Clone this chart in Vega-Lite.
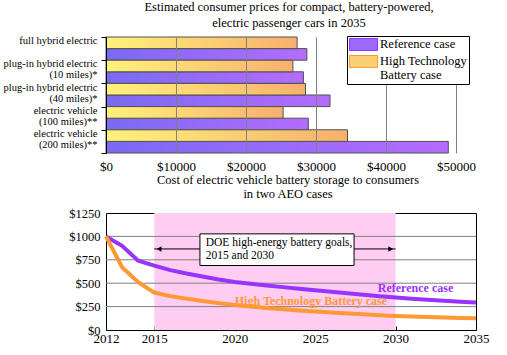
{
  "$schema": "https://vega.github.io/schema/vega-lite/v6.json",
  "padding": {"left": 3, "top": 0, "right": 0, "bottom": 0},
  "background": "white",
  "spacing": 0,
  "config": {
    "font": "Liberation Serif",
    "view": {"stroke": "#000", "strokeWidth": 1},
    "axis": {"labelFont": "Liberation Serif", "labelColor": "#000", "titleFont": "Liberation Serif"},
    "title": {"font": "Liberation Serif", "fontWeight": "normal", "color": "#000"},
    "legend": {"labelFont": "Liberation Serif", "labelColor": "#000"},
    "text": {"font": "Liberation Serif"},
    "style": {"guide-label": {"font": "Liberation Serif"}, "group-title": {"font": "Liberation Serif"}}
  },
  "vconcat": [
    {
      "width": 350,
      "height": 116,
      "view": {"stroke": null},
      "title": {"text": ["Estimated consumer prices for compact, battery-powered,", "electric passenger cars in 2035"], "font": "Liberation Serif", "fontSize": 12.5, "lineHeight": 16, "offset": 3, "dx": 8, "anchor": "middle"},
      "data": {"values": [
        {"vehicle": "full hybrid electric|", "case": "Reference case", "price": 28700},
        {"vehicle": "full hybrid electric|", "case": "High Technology Battery case", "price": 27300},
        {"vehicle": "plug-in hybrid electric|(10 miles)*", "case": "Reference case", "price": 28200},
        {"vehicle": "plug-in hybrid electric|(10 miles)*", "case": "High Technology Battery case", "price": 26700},
        {"vehicle": "plug-in hybrid electric|(40 miles)*", "case": "Reference case", "price": 32000},
        {"vehicle": "plug-in hybrid electric|(40 miles)*", "case": "High Technology Battery case", "price": 28500},
        {"vehicle": "electric vehicle|(100 miles)**", "case": "Reference case", "price": 28900},
        {"vehicle": "electric vehicle|(100 miles)**", "case": "High Technology Battery case", "price": 25300},
        {"vehicle": "electric vehicle|(200 miles)**", "case": "Reference case", "price": 48900},
        {"vehicle": "electric vehicle|(200 miles)**", "case": "High Technology Battery case", "price": 34500}
      ]},
      "mark": {"type": "bar", "stroke": "#505050", "strokeWidth": 1},
      "encoding": {
        "y": {
          "field": "vehicle", "type": "nominal", "sort": null, "title": null,
          "scale": {"paddingInner": 0, "paddingOuter": 0},
          "axis": {"labelExpr": "split(datum.label, '|')", "labelFont": "Liberation Serif", "labelFontSize": 10.5, "labelLineHeight": 11, "labelPadding": 4, "tickSize": 5, "tickColor": "#000", "domainColor": "#000", "tickBand": "extent", "minExtent": 100, "maxExtent": 100, "zindex": 2, "labelOffset": -8, "labelLimit": 200}
        },
        "yOffset": {"field": "case", "type": "nominal", "sort": ["High Technology Battery case", "Reference case"]},
        "x": {
          "field": "price", "type": "quantitative", "title": null,
          "scale": {"domain": [0, 50000], "nice": false},
          "axis": {"values": [0, 10000, 20000, 30000, 40000, 50000], "tickCount": 6, "labelExpr": "'$' + datum.value", "labelFont": "Liberation Serif", "labelFontSize": 13, "domain": false, "ticks": false, "grid": true, "gridColor": "#808080", "gridOpacity": 1, "labelPadding": 7, "zindex": 1, "labelFlush": false}
        },
        "fill": {
          "field": "case", "type": "nominal",
          "condition": [
            {"test": "datum['case'] === 'Reference case'", "value": {"gradient": "linear", "x1": 0, "y1": 0, "x2": 1, "y2": 0, "stops": [{"offset": 0, "color": "#7a6af2"}, {"offset": 1, "color": "#b46cff"}]}},
            {"test": "datum['case'] === 'High Technology Battery case'", "value": {"gradient": "linear", "x1": 0, "y1": 0, "x2": 1, "y2": 0, "stops": [{"offset": 0, "color": "#fff27a"}, {"offset": 1, "color": "#f7b06e"}]}}
          ],
          "scale": {
            "domain": ["Reference case", "High Technology Battery case"],
            "range": ["#9a6bfa", "#fbd074"]
          },
          "legend": {
            "title": null, "orient": "none", "legendX": 241, "legendY": -1,
            "strokeColor": "#000", "fillColor": "#fff", "padding": 2,
            "symbolType": "M-2.33,-1H2.33V1H-2.33Z", "symbolSize": 144, "symbolOffset": 8,
            "symbolStrokeColor": "#707070", "symbolStrokeWidth": 1,
            "labelFont": "Liberation Serif", "labelFontSize": 12.5, "labelOffset": 10, "rowPadding": 0, "labelLimit": 200,
            "labelBaseline": "top",
            "labelExpr": "datum.label == 'High Technology Battery case' ? ['High Technology', 'Battery case'] : datum.label",
            "labelLineHeight": 15,
            "encode": {
              "labels": {"update": {"dy": {"value": -7}}},
              "symbols": {"update": {"fill": {"signal": "datum.value == 'Reference case' ? {gradient: 'linear', x1: 0, y1: 0, x2: 1, y2: 0, stops: [{offset: 0, color: '#7a6af2'}, {offset: 1, color: '#b46cff'}]} : {gradient: 'linear', x1: 0, y1: 0, x2: 1, y2: 0, stops: [{offset: 0, color: '#fff27a'}, {offset: 1, color: '#f7b06e'}]}"}}}
            }
          }
        }
      }
    },
    {
      "width": 370,
      "height": 117,
      "title": {"text": ["Cost of electric vehicle battery storage to consumers", "in two AEO cases"], "font": "Liberation Serif", "fontSize": 12.5, "lineHeight": 14, "offset": 7, "dx": -3, "anchor": "middle"},
      "layer": [
        {
          "data": {"values": [{"start": 2015, "end": 2030, "low": 0, "high": 1250}]},
          "mark": {"type": "rect", "fill": "#ffccf2"},
          "encoding": {
            "x": {
              "field": "start", "type": "quantitative", "title": null,
              "scale": {"domain": [2012, 2035], "nice": false, "zero": false},
              "axis": {"values": [2012, 2015, 2020, 2025, 2030, 2035], "tickCount": 6, "format": "d", "labelFont": "Liberation Serif", "labelFontSize": 13, "domain": false, "tickSize": -4, "tickColor": "#000", "labelPadding": 6, "grid": false, "labelFlush": false, "labelOverlap": false}
            },
            "x2": {"field": "end"},
            "y": {
              "field": "low", "type": "quantitative", "title": null,
              "scale": {"domain": [0, 1250], "nice": false},
              "axis": {"values": [0, 250, 500, 750, 1000, 1250], "tickCount": 6, "labelExpr": "'$' + datum.value", "labelFont": "Liberation Serif", "labelFontSize": 12.5, "domain": false, "ticks": false, "grid": false, "labelPadding": 6, "minExtent": 100, "maxExtent": 100, "labelOverlap": false, "labelFlush": false}
            },
            "y2": {"field": "high"}
          }
        },
        {
          "data": {"values": [{"v": 250}, {"v": 500}, {"v": 750}, {"v": 1000}]},
          "mark": {"type": "rule", "color": "#808080", "strokeWidth": 1},
          "encoding": {
            "y": {"field": "v", "type": "quantitative", "title": null}
          }
        },
        {
          "data": {"values": [
            {"year": 2012, "case": "Reference case", "cost": 1000},
            {"year": 2013, "case": "Reference case", "cost": 900},
            {"year": 2014, "case": "Reference case", "cost": 740},
            {"year": 2015, "case": "Reference case", "cost": 688},
            {"year": 2016, "case": "Reference case", "cost": 640},
            {"year": 2017, "case": "Reference case", "cost": 603},
            {"year": 2018, "case": "Reference case", "cost": 572},
            {"year": 2019, "case": "Reference case", "cost": 540},
            {"year": 2020, "case": "Reference case", "cost": 512},
            {"year": 2021, "case": "Reference case", "cost": 493},
            {"year": 2022, "case": "Reference case", "cost": 475},
            {"year": 2023, "case": "Reference case", "cost": 458},
            {"year": 2024, "case": "Reference case", "cost": 441},
            {"year": 2025, "case": "Reference case", "cost": 424},
            {"year": 2026, "case": "Reference case", "cost": 408},
            {"year": 2027, "case": "Reference case", "cost": 392},
            {"year": 2028, "case": "Reference case", "cost": 376},
            {"year": 2029, "case": "Reference case", "cost": 361},
            {"year": 2030, "case": "Reference case", "cost": 347},
            {"year": 2031, "case": "Reference case", "cost": 335},
            {"year": 2032, "case": "Reference case", "cost": 324},
            {"year": 2033, "case": "Reference case", "cost": 313},
            {"year": 2034, "case": "Reference case", "cost": 303},
            {"year": 2035, "case": "Reference case", "cost": 293},
            {"year": 2012, "case": "High Technology Battery case", "cost": 1000},
            {"year": 2013, "case": "High Technology Battery case", "cost": 670},
            {"year": 2014, "case": "High Technology Battery case", "cost": 510},
            {"year": 2015, "case": "High Technology Battery case", "cost": 400},
            {"year": 2016, "case": "High Technology Battery case", "cost": 362},
            {"year": 2017, "case": "High Technology Battery case", "cost": 335},
            {"year": 2018, "case": "High Technology Battery case", "cost": 310},
            {"year": 2019, "case": "High Technology Battery case", "cost": 287},
            {"year": 2020, "case": "High Technology Battery case", "cost": 267},
            {"year": 2021, "case": "High Technology Battery case", "cost": 250},
            {"year": 2022, "case": "High Technology Battery case", "cost": 235},
            {"year": 2023, "case": "High Technology Battery case", "cost": 221},
            {"year": 2024, "case": "High Technology Battery case", "cost": 208},
            {"year": 2025, "case": "High Technology Battery case", "cost": 197},
            {"year": 2026, "case": "High Technology Battery case", "cost": 186},
            {"year": 2027, "case": "High Technology Battery case", "cost": 176},
            {"year": 2028, "case": "High Technology Battery case", "cost": 167},
            {"year": 2029, "case": "High Technology Battery case", "cost": 158},
            {"year": 2030, "case": "High Technology Battery case", "cost": 150},
            {"year": 2031, "case": "High Technology Battery case", "cost": 144},
            {"year": 2032, "case": "High Technology Battery case", "cost": 138},
            {"year": 2033, "case": "High Technology Battery case", "cost": 133},
            {"year": 2034, "case": "High Technology Battery case", "cost": 129},
            {"year": 2035, "case": "High Technology Battery case", "cost": 125}
          ]},
          "mark": {"type": "line", "strokeWidth": 4},
          "encoding": {
            "x": {"field": "year", "type": "quantitative", "title": null},
            "y": {"field": "cost", "type": "quantitative", "title": null},
            "color": {"field": "case", "type": "nominal", "legend": null, "scale": {"domain": ["Reference case", "High Technology Battery case"], "range": ["#9933ff", "#ff9933"]}}
          }
        },
        {
          "data": {"values": [{"from": 2015, "to": 2030, "level": 866}]},
          "mark": {"type": "rule", "color": "#000", "strokeWidth": 1},
          "encoding": {
            "x": {"field": "from", "type": "quantitative", "title": null},
            "x2": {"field": "to"},
            "y": {"field": "level", "type": "quantitative", "title": null}
          }
        },
        {
          "data": {"values": [{"year": 2015.3, "level": 866, "dir": "triangle-left"}, {"year": 2029.7, "level": 866, "dir": "triangle-right"}]},
          "mark": {"type": "point", "filled": true, "color": "#000", "size": 30, "opacity": 1},
          "encoding": {
            "x": {"field": "year", "type": "quantitative", "title": null},
            "y": {"field": "level", "type": "quantitative", "title": null},
            "shape": {"field": "dir", "type": "nominal", "scale": null, "legend": null}
          }
        },
        {
          "data": {"values": [{"x1": 2017.84, "x2": 2027.42, "y1": 1027, "y2": 689}]},
          "mark": {"type": "rect", "fill": "#fff", "stroke": "#000", "strokeWidth": 1},
          "encoding": {
            "x": {"field": "x1", "type": "quantitative", "title": null},
            "x2": {"field": "x2"},
            "y": {"field": "y1", "type": "quantitative", "title": null},
            "y2": {"field": "y2"}
          }
        },
        {
          "data": {"values": [{"year": 2018.2, "level": 863, "note": ["DOE high-energy battery goals,", "2015 and 2030"]}]},
          "mark": {"type": "text", "align": "left", "baseline": "middle", "font": "Liberation Serif", "fontSize": 11.5, "lineHeight": 13, "color": "#000", "dy": -6},
          "encoding": {
            "x": {"field": "year", "type": "quantitative", "title": null},
            "y": {"field": "level", "type": "quantitative", "title": null},
            "text": {"field": "note"}
          }
        },
        {
          "data": {"values": [
            {"year": 2031.24, "level": 445, "label": "Reference case", "case": "Reference case"},
            {"year": 2024.74, "level": 307, "label": "High Technology Battery case", "case": "High Technology Battery case"}
          ]},
          "mark": {"type": "text", "align": "center", "baseline": "middle", "font": "Liberation Serif", "fontSize": 12, "fontWeight": "bold"},
          "encoding": {
            "x": {"field": "year", "type": "quantitative", "title": null},
            "y": {"field": "level", "type": "quantitative", "title": null},
            "text": {"field": "label"},
            "color": {"field": "case", "type": "nominal", "legend": null}
          }
        }
      ]
    }
  ]
}
